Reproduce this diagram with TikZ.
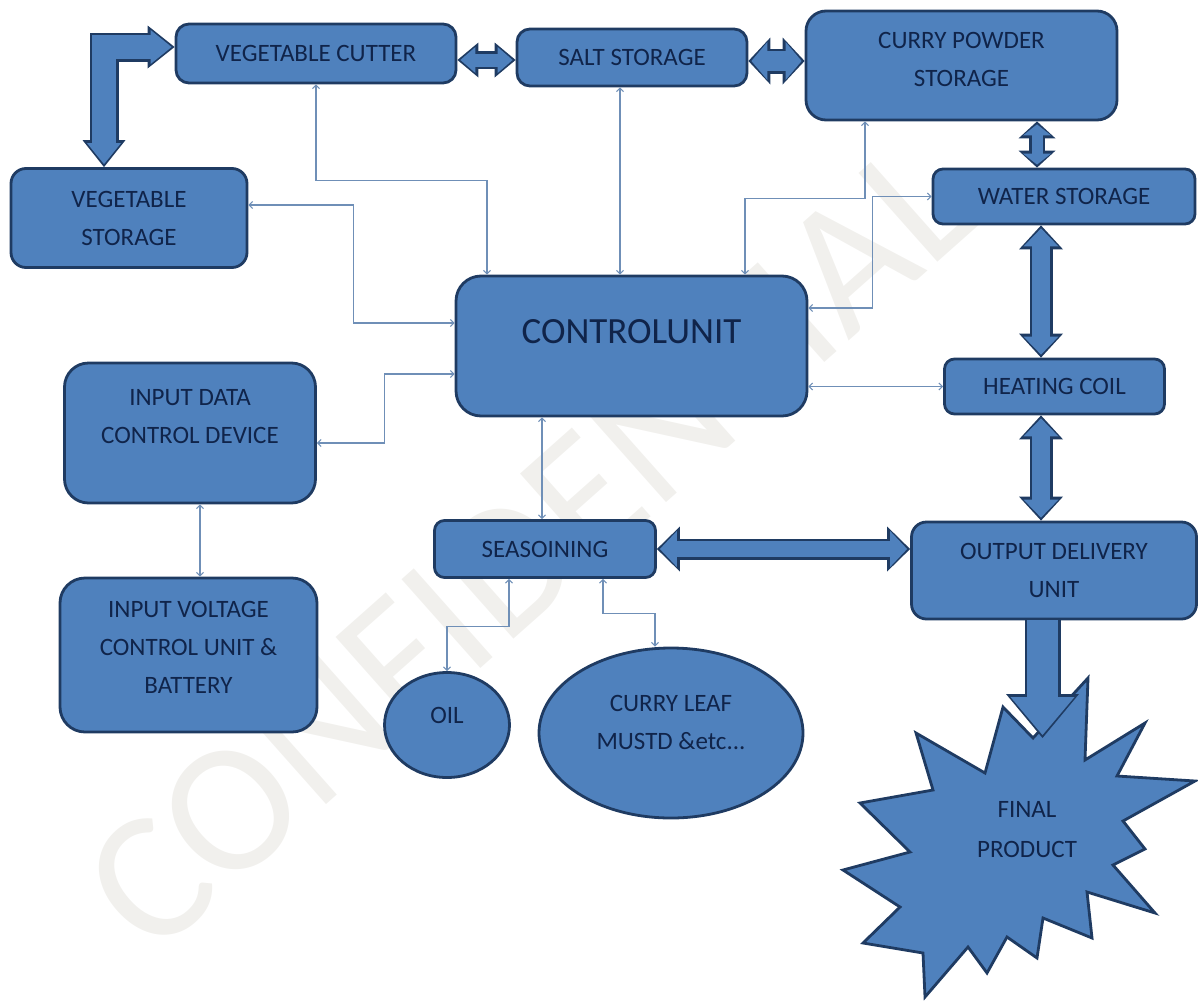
\documentclass[tikz,border=0pt]{standalone}
\usepackage{fontspec}
\setmainfont{Carlito}
\usetikzlibrary{shapes.geometric,arrows.meta}

\definecolor{boxfill}{HTML}{4F81BD}
\definecolor{boxline}{HTML}{1F3B62}
\definecolor{boxtext}{HTML}{10244A}
\definecolor{wirecol}{HTML}{6F8FB7}
\definecolor{stampcol}{HTML}{F1F0ED}

\tikzset{
  unitbox/.style={rectangle, draw=boxline, fill=boxfill, line width=2.8pt,
    rounded corners=#1, inner sep=0pt, align=center, text=boxtext,
    font=\fontsize{25}{38}\selectfont},
  unitbox/.default=13pt,
  blob/.style={ellipse, draw=boxline, fill=boxfill, line width=2.8pt,
    inner sep=0pt, align=center, text=boxtext,
    font=\fontsize{25}{38}\selectfont},
  burst/.style={draw=boxline, fill=boxfill, line width=2.8pt, line join=miter},
  wire/.style={draw=wirecol, line width=1.1pt,
    {Straight Barb[length=3.5pt,width=7pt]}-{Straight Barb[length=3.5pt,width=7pt]}},
}

% block arrow: shaft, head width, head length, path
\newcommand{\fatarrow}[4]{%
  \pgfmathsetmacro\fatout{#1+5}%
  \pgfmathsetmacro\fatwout{#2+9}%
  \pgfmathsetmacro\fatlout{#3+6}%
  \draw[boxline, line width=\fatout pt,
    {Triangle[width=\fatwout pt,length=\fatlout pt,line width=0pt]}-{Triangle[width=\fatwout pt,length=\fatlout pt,line width=0pt]}] #4;
  \draw[boxfill, line width=#1pt, shorten <=3pt, shorten >=3pt,
    {Triangle[width=#2pt,length=#3pt,line width=0pt]}-{Triangle[width=#2pt,length=#3pt,line width=0pt]}] #4;
}

\begin{document}
\begin{tikzpicture}[x=1pt, y=-1pt]
\useasboundingbox (0,0) rectangle (1198,1001);

% watermark
\node[text=stampcol, rotate=41.6, font=\fontsize{185}{185}\selectfont] (stamp) at (530,545) {CONFIDENTIAL};

% units
\node[unitbox, minimum width=280pt, minimum height=59pt] (cutter) at (316,53.5) {VEGETABLE CUTTER};
\node[unitbox, minimum width=230pt, minimum height=57pt] (salt) at (632,57.5) {SALT STORAGE};
\node[unitbox=20pt, minimum width=311pt, minimum height=109pt, text depth=12pt] (curry) at (961.5,65.5) {CURRY POWDER\\STORAGE};
\node[unitbox=15pt, minimum width=236pt, minimum height=99pt] (vegstore) at (129,218) {VEGETABLE\\STORAGE};
\node[unitbox=10pt, minimum width=262pt, minimum height=55pt] (water) at (1064,196.5) {WATER STORAGE};
\node[unitbox=25pt, minimum width=351pt, minimum height=140pt, text depth=30pt,
  font=\fontsize{37}{44}\selectfont] (control) at (631.5,346) {CONTROLUNIT};
\node[unitbox=10pt, minimum width=220pt, minimum height=55pt] (heating) at (1054.5,386.5) {HEATING COIL};
\node[unitbox=24pt, minimum width=251pt, minimum height=140pt, text depth=33pt] (inputdata) at (190,433) {INPUT DATA\\CONTROL DEVICE};
\node[unitbox=10pt, minimum width=221pt, minimum height=57pt] (seasoning) at (545,549) {SEASOINING};
\node[unitbox=15pt, minimum width=285pt, minimum height=97pt] (output) at (1054,570.5) {OUTPUT DELIVERY\\UNIT};
\node[unitbox=25pt, minimum width=257pt, minimum height=154pt, text depth=15pt] (voltage) at (188.5,655) {INPUT VOLTAGE\\CONTROL UNIT \&\\BATTERY};
\node[blob, minimum width=125pt, minimum height=105pt, text depth=20pt] (oil) at (447,725) {OIL};
\node[blob, minimum width=264pt, minimum height=170pt, text depth=22pt] (leaf) at (671,733) {CURRY LEAF\\MUSTD \&etc...};

% final product
\draw[burst] (1088,678) -- (1085,760) -- (1145,723) -- (1117,776) -- (1195,781)
  -- (1123,821) -- (1145,849) -- (1113,865) -- (1155,913) -- (1087,892)
  -- (1092,938) -- (1043,918) -- (1037,958) -- (1007,937) -- (987,973)
  -- (968,947) -- (925,997) -- (923,953) -- (863,943) -- (900,907)
  -- (843,870) -- (910,852) -- (860,803) -- (933,790) -- (916,733)
  -- (985,773) -- (1003,707) -- (1033,738) -- cycle;
\node[text=boxtext, align=center, font=\fontsize{25}{40}\selectfont] (final) at (1027,830) {FINAL\\PRODUCT};
\coordinate (burstin) at (1042.5,738);

% thin control lines
\draw[wire] ([xshift=-144.5pt]control.north) -- ++(0,-94) -| (cutter.south);
\draw[wire] ([yshift=23pt]control.west) -- ++(-101,0) |- ([yshift=13pt]vegstore.east);
\draw[wire] ([yshift=-28pt]control.west) -- ++(-70,0) |- ([yshift=-10pt]inputdata.east);
\draw[wire] ([xshift=-12pt]salt.south) -- ([xshift=-12pt]salt.south |- control.north);
\draw[wire] ([xshift=-96.5pt]curry.south) -- ++(0,77) -| ([xshift=113.5pt]control.north);
\draw[wire] ([yshift=38pt]control.east) -- ++(64,0) |- (water.west);
\draw[wire] (control.east |- heating.west) -- (heating.west);
\draw[wire] ([xshift=-3pt]seasoning.north |- control.south) -- ([xshift=-3pt]seasoning.north);
\draw[wire] ([xshift=-36pt]seasoning.south) -- ++(0,48) -| (oil.north);
\draw[wire] ([xshift=58pt]seasoning.south) -- ++(0,35) -| ([xshift=-16pt]leaf.north);
\draw[wire] ([xshift=10pt]inputdata.south) -- ([xshift=10pt]inputdata.south |- voltage.north);

% block arrows
\fatarrow{24}{34}{21}{([xshift=-25pt]vegstore.north) |- ([yshift=6.5pt]cutter.west)}
\fatarrow{13}{26}{15}{([yshift=-6.5pt]cutter.east) -- ([yshift=-2.5pt]salt.west)}
\fatarrow{20}{38}{16}{([yshift=-3.5pt]salt.east) -- ([yshift=-3.5pt]salt.east -| curry.west)}
\fatarrow{11}{28}{11}{([xshift=75.5pt]curry.south) -- ([xshift=75.5pt]curry.south |- water.north)}
\fatarrow{18}{35}{18}{([xshift=-23pt]water.south) -- ([xshift=-23pt]water.south |- heating.north)}
\fatarrow{18}{35}{18}{([xshift=-13.5pt]heating.south) -- ([xshift=-13.5pt]heating.south |- output.north)}
\fatarrow{16}{36}{17}{(seasoning.east) -- (seasoning.east -| output.west)}
\draw[boxline, line width=36pt, -{Triangle[width=73pt,length=44pt,line width=0pt]}]
  ([xshift=-11.5pt]output.south) -- (burstin);
\draw[boxfill, line width=31pt, shorten >=3pt, -{Triangle[width=64pt,length=38pt,line width=0pt]}]
  ([xshift=-11.5pt]output.south) -- (burstin);
\end{tikzpicture}
\end{document}
